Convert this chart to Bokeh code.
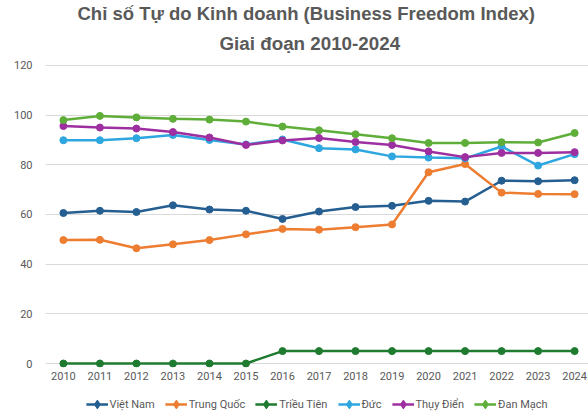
import math
from bokeh.plotting import figure
from bokeh.layouts import column
from bokeh.models import ColumnDataSource, Range1d, Legend, LegendItem, FixedTicker, Title
from bokeh.embed import file_html
from bokeh.resources import INLINE

years = list(range(2010, 2025))
viet_nam = [60.6, 61.5, 61.0, 63.7, 62.0, 61.5, 58.2, 61.2, 63.0, 63.5, 65.5, 65.2, 73.6, 73.4, 73.8]
trung_quoc = [49.7, 49.8, 46.4, 48.0, 49.7, 52.0, 54.2, 53.9, 54.9, 56.0, 77.0, 80.3, 68.8, 68.3, 68.2]
trieu_tien = [0, 0, 0, 0, 0, 0, 5, 5, 5, 5, 5, 5, 5, 5, 5]
duc = [89.9, 89.9, 90.7, 92.0, 90.0, 88.2, 90.2, 86.7, 86.2, 83.4, 82.9, 82.6, 87.4, 79.7, 84.3]
thuy_dien = [95.6, 95.0, 94.6, 93.2, 91.0, 88.0, 89.8, 90.8, 89.2, 88.0, 85.4, 83.1, 84.8, 84.8, 85.1]
dan_mach = [98.0, 99.7, 99.1, 98.5, 98.2, 97.4, 95.4, 93.9, 92.3, 90.7, 88.8, 88.8, 89.1, 89.0, 92.8]

series_names = ["Việt Nam", "Trung Quốc", "Triều Tiên", "Đức", "Thụy Điển", "Đan Mạch"]
series_values = [viet_nam, trung_quoc, trieu_tien, duc, thuy_dien, dan_mach]
colors = ["#255e91", "#ed7d31", "#1e7b30", "#2ea7e0", "#9e2fa0", "#5fae3a"]
title_line1 = "Chỉ số Tự do Kinh doanh (Business Freedom Index)"
title_line2 = "Giai đoạn 2010-2024"
y_ticks = [0, 20, 40, 60, 80, 100, 120]

p = figure(width=588, height=389, output_backend="svg", toolbar_location=None,
           x_range=Range1d(2009.51, 2024.38), y_range=Range1d(-1.6, 122),
           title=title_line1,
           min_border_left=45, min_border_right=0, min_border_top=60, min_border_bottom=22)

def style_title(t, size, offset):
    t.align = "left"
    t.text_font = "Liberation Sans"
    t.text_font_size = size
    t.text_color = "#595959"
    t.text_font_style = "bold"
    t.offset = offset

style_title(p.title, "18.5px", 32)
p.title.standoff = 0
t2 = Title(text=title_line2)
style_title(t2, "18.8px", 174)
t2.standoff = 14
p.add_layout(t2, "above")

p.outline_line_color = None
p.background_fill_color = "white"
p.border_fill_color = "white"

p.xgrid.grid_line_color = None
p.ygrid.grid_line_color = "#d9d9d9"
p.ygrid.grid_line_width = 1

p.yaxis.ticker = FixedTicker(ticks=y_ticks)
p.xaxis.ticker = FixedTicker(ticks=years)
for ax in (p.xaxis, p.yaxis):
    ax.axis_line_color = None
    ax.major_tick_line_color = None
    ax.minor_tick_line_color = None
    ax.major_label_text_color = "#595959"
    ax.major_label_text_font = "Roboto"
    ax.major_label_text_font_size = "11px"
p.xaxis.major_label_standoff = -2
p.yaxis.major_label_standoff = 7

for vals, c in zip(series_values, colors):
    src = ColumnDataSource(dict(x=years, y=vals))
    p.line("x", "y", source=src, line_color=c, line_width=2.5)
    p.scatter("x", "y", source=src, marker="circle", size=7, fill_color=c, line_color=c)

# legend strip underneath the chart
p2 = figure(width=588, height=30, output_backend="svg", toolbar_location=None,
            x_range=Range1d(0, 1), y_range=Range1d(0, 1),
            min_border_left=26, min_border_right=0, min_border_top=0, min_border_bottom=0)
p2.axis.visible = False
p2.grid.visible = False
p2.outline_line_color = None
p2.background_fill_color = "white"
p2.border_fill_color = "white"

nan = float("nan")
items = []
for name, c in zip(series_names, colors):
    ln = p2.line(x=[nan], y=[nan], line_color=c, line_width=2.5)
    dm = p2.scatter(x=[nan], y=[nan], marker="diamond", size=13, angle=math.pi / 2,
                    fill_color=c, line_color=c)
    items.append(LegendItem(label=name, renderers=[ln, dm]))

legend = Legend(items=items, orientation="horizontal", location="center",
                label_text_font="Roboto", label_text_font_size="11px",
                label_text_color="#595959", border_line_color=None,
                background_fill_alpha=0, glyph_width=22, glyph_height=26,
                spacing=10, label_standoff=2, padding=0, margin=0)
p2.add_layout(legend, "center")

layout = column(p, p2, spacing=0)
open("out.html", "w").write(file_html(layout, INLINE))
